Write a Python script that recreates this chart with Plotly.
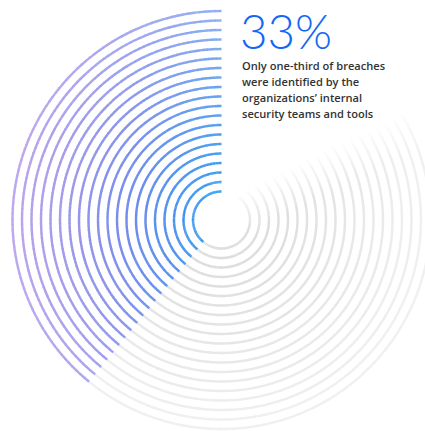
import numpy as np
import plotly.graph_objects as go

# ---- data ----
headline_value = 33                 # percent shown in the headline
arc_share_identified = 0.39         # share of each ring drawn in colour
ring_count = 20
inner_radius = 28.5
ring_step = 9.5
headline_text = "%d%%" % headline_value
body_lines = ["Only one-third of breaches",
              "were identified by the",
              "organizations\u2019 internal",
              "security teams and tools"]

W, H = 425, 431
CX, CY = 221.5, 220.0  # centre in pixel coords

radii = [inner_radius + i * ring_step for i in range(ring_count)]
R_OUT = radii[-1]

blue = np.array([35, 158, 242])
mid = np.array([95, 120, 232])
purple = np.array([148, 112, 228])


def grad(t):
    t = min(max(t, 0.0), 1.0)
    if t < 0.5:
        return blue + (mid - blue) * (t / 0.5)
    return mid + (purple - mid) * ((t - 0.5) / 0.5)


fig = go.Figure()
groups = {}
seg_deg = 1.5
col_span = 360 * arc_share_identified

for i, r in enumerate(radii):
    fr = i / (ring_count - 1)
    n = int(np.ceil(col_span / seg_deg))
    edges = np.linspace(90, 90 + col_span, n + 1)
    alpha = 1.0 - 0.38 * fr
    for a0, a1 in zip(edges[:-1], edges[1:]):
        am = np.radians((a0 + a1) / 2)
        x = r * np.cos(am)
        t = 0.35 * r / R_OUT + 0.7 * (-x) / R_OUT
        c = grad(t) * alpha + 255 * (1 - alpha)
        key = tuple(int(round(v / 4) * 4) for v in c)
        th = np.radians(np.linspace(a0, a1 + 0.3, 4))
        groups.setdefault(key, ([], []))
        groups[key][0].extend(list(r * np.cos(th)) + [None])
        groups[key][1].extend(list(r * np.sin(th)) + [None])
    g_start = 90 + col_span
    g_end = 450
    n = int(np.ceil((g_end - g_start) / seg_deg))
    edges = np.linspace(g_start, g_end, n + 1)
    base = 218 + 23 * fr
    for a0, a1 in zip(edges[:-1], edges[1:]):
        am = np.radians((a0 + a1) / 2)
        X, Y = r * np.cos(am), r * np.sin(am)
        d = (17.25 + 0.5 * X - Y) / np.sqrt(1.25)
        fa = min(max((d + 2) / 40.0, 0.0), 1.0)
        if fa <= 0.02:
            continue
        g = base * fa + 255 * (1 - fa)
        gq = int(round(g / 2) * 2)
        if gq >= 254:
            continue
        key = (gq, gq, gq)
        th = np.radians(np.linspace(a0, a1 + 0.3, 4))
        groups.setdefault(key, ([], []))
        groups[key][0].extend(list(r * np.cos(th)) + [None])
        groups[key][1].extend(list(r * np.sin(th)) + [None])

for key, (xs, ys) in groups.items():
    fig.add_trace(go.Scatter(x=xs, y=ys, mode="lines",
                             line=dict(color="rgb(%d,%d,%d)" % key, width=2.4),
                             hoverinfo="skip", showlegend=False))

fig.add_annotation(x=238 - CX, y=1, xref="x", yref="paper",
                   text=headline_text, showarrow=False,
                   xanchor="left", yanchor="top",
                   font=dict(family="Lato", size=47.5, color="#1466f5", weight=300))
line_y = [65.5, 81.5, 97.5, 113.5]
for txt, yy in zip(body_lines, line_y):
    fig.add_annotation(x=240 - CX, y=CY - yy, xref="x", yref="y",
                       text=txt, showarrow=False,
                       xanchor="left", yanchor="middle", align="left",
                       font=dict(family="Open Sans", size=11.1, color="#333333", weight=600))

fig.update_layout(width=W, height=H, margin=dict(l=0, r=0, t=0, b=0),
                  paper_bgcolor="white", plot_bgcolor="white",
                  xaxis=dict(range=[-CX, W - CX], visible=False, fixedrange=True),
                  yaxis=dict(range=[-(H - CY), CY], visible=False, fixedrange=True))
fig.write_html("out.html", config={"displayModeBar": False},
               post_script="document.body.style.margin='0';document.body.style.overflow='hidden';")
